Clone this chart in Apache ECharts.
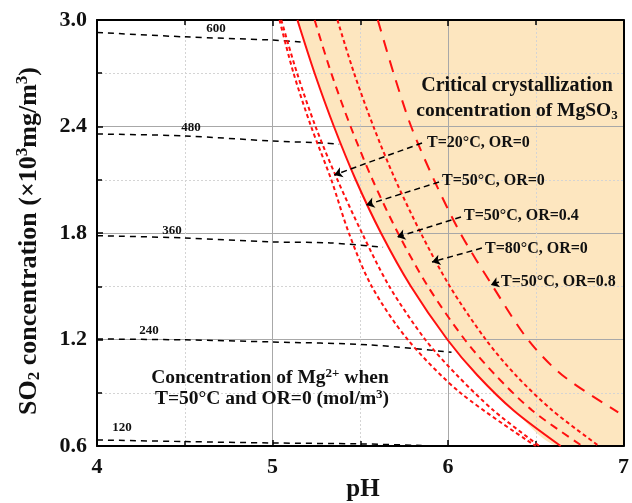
<!DOCTYPE html>
<html>
<head>
<meta charset="utf-8">
<script src="https://cdn.jsdelivr.net/npm/echarts@6/dist/echarts.min.js"></script>
<style>
  html, body { margin: 0; padding: 0; background: #fff; }
  #chart { width: 632px; height: 503px; }
</style>
</head>
<body>
<div id="chart"></div>
<script>
// critical crystallization curves [pH, SO2 (x10^3 mg/m3)]
const t20or0 = [[5.04, 3.0], [5.12, 2.7], [5.22, 2.4], [5.335, 2.1], [5.435, 1.8], [5.565, 1.5], [5.77, 1.2], [6.07, 0.9], [6.50, 0.6]]
const t20or0b = [[5.05, 3.0], [5.14, 2.7], [5.245, 2.4], [5.37, 2.1], [5.51, 1.8], [5.665, 1.5], [5.87, 1.2], [6.05, 1.0], [6.26, 0.8], [6.52, 0.6]]
const t50or0 = [[5.142, 3.0], [5.24, 2.7], [5.35, 2.4], [5.474, 2.1], [5.618, 1.8], [5.788, 1.5], [5.996, 1.2], [6.166, 1.0], [6.374, 0.8], [6.642, 0.6]]
const t50or04 = [[5.24, 3.0], [5.335, 2.7], [5.445, 2.4], [5.57, 2.1], [5.715, 1.8], [5.885, 1.5], [6.095, 1.2], [6.27, 1.0], [6.48, 0.8], [6.765, 0.6]]
const t80or0 = [[5.37, 3.0], [5.465, 2.7], [5.575, 2.4], [5.70, 2.1], [5.845, 1.8], [6.01, 1.5], [6.215, 1.2], [6.385, 1.0], [6.595, 0.8], [6.86, 0.6]]
const t50or08 = [[5.60, 3.0], [5.69, 2.7], [5.79, 2.4], [5.92, 2.1], [6.07, 1.8], [6.255, 1.5], [6.455, 1.2], [6.65, 1.0], [6.97, 0.79]]
const fillCorner = [[7, 0.6]]

// Mg2+ iso-concentration lines (mol/m3)
const isoNames = ['600', '480', '360', '240', '120']
const isoLines = [
  [[4, 2.93], [4.5, 2.905], [5, 2.887], [5.16, 2.876]],
  [[4, 2.358], [4.5, 2.347], [5, 2.318], [5.3, 2.307], [5.38, 2.30]],
  [[4, 1.785], [4.5, 1.772], [5, 1.75], [5.33, 1.744], [5.63, 1.72]],
  [[4, 1.203], [4.5, 1.198], [5, 1.186], [5.55, 1.17], [6.02, 1.128]],
  [[4, 0.634], [4.5, 0.625], [5, 0.617], [5.5, 0.612], [5.85, 0.603]]
]

// arrows from labels to curves: [start, end]
const arrows = [
  [[5.852, 2.307], [5.352, 2.127]],
  [[5.949, 2.087], [5.534, 1.958]],
  [[6.074, 1.890], [5.710, 1.777]],
  [[6.193, 1.715], [5.909, 1.637]],
  [[6.290, 1.524], [6.244, 1.507]]
]
const arrowLabels = ['T=20°C, OR=0', 'T=50°C, OR=0', 'T=50°C, OR=0.4', 'T=80°C, OR=0', 'T=50°C, OR=0.8']

const serif = '"Liberation Serif", "DejaVu Serif", serif'
const red = '#ff1010'

const chart = echarts.init(document.getElementById('chart'))

function curve (name, data, type, dash) {
  return {
    name: name,
    type: 'line',
    data: data,
    showSymbol: false,
    smooth: 0.3,
    lineStyle: { color: red, width: 2, type: type === 'solid' ? 'solid' : dash },
    z: 4
  }
}

const series = []
series.push({
  type: 'line',
  data: t50or0.concat(fillCorner),
  showSymbol: false,
  smooth: 0.3,
  lineStyle: { width: 0 },
  areaStyle: { color: '#fde6bf', opacity: 1, origin: 'end' },
  z: -1
})
isoLines.forEach(function (d, i) {
  const s = {
    name: isoNames[i],
    type: 'line',
    data: d,
    showSymbol: false,
    smooth: 0.3,
    lineStyle: { color: '#000', width: 1.5, type: [6, 5] },
    z: 3
  }
  if (i === 0) {
    s.markLine = {
      silent: true,
      symbol: ['none', 'arrow'],
      symbolSize: 8,
      label: { show: false },
      lineStyle: { color: '#000', width: 1.5, type: [6, 4] },
      data: arrows.map(function (a) {
        return [{ coord: a[0] }, { coord: a[1] }]
      })
    }
  }
  series.push(s)
})
series.push(curve('T=20°C, OR=0', t20or0, 'dot', [4, 3]))
series.push(curve('T=20°C, OR=0 b', t20or0b, 'dot', [4, 3]))
series.push(curve('T=50°C, OR=0', t50or0, 'solid'))
series.push(curve('T=50°C, OR=0.4', t50or04, 'dash', [8, 6]))
series.push(curve('T=80°C, OR=0', t80or0, 'dot', [4, 3]))
series.push(curve('T=50°C, OR=0.8', t50or08, 'dash', [12, 9]))

const bold = { fontFamily: serif, fontWeight: 'bold', fill: '#111' }
const graphics = [
  { type: 'text', x: 29, y: 241, rotation: Math.PI / 2, style: Object.assign({
    text: '{a|SO}{sub|2}{a| concentration (×10}{sup|3}{a|mg/m}{sup|3}{a|)}',
    align: 'center', verticalAlign: 'middle',
    rich: {
      a: { fontSize: 26, fontFamily: serif, fontWeight: 'bold', lineHeight: 29 },
      sub: { fontSize: 17, fontFamily: serif, fontWeight: 'bold', lineHeight: 14, verticalAlign: 'bottom' },
      sup: { fontSize: 17, fontFamily: serif, fontWeight: 'bold', lineHeight: 14, verticalAlign: 'top' }
    }
  }, bold) },
  { type: 'text', x: 363, y: 490, style: Object.assign({ text: 'pH', fontSize: 25, align: 'center', verticalAlign: 'middle' }, bold) },
  { type: 'text', x: 517, y: 86, style: Object.assign({ text: 'Critical crystallization', fontSize: 20, align: 'center', verticalAlign: 'middle' }, bold) },
  { type: 'text', x: 517, y: 111, style: Object.assign({
    text: '{a|concentration of MgSO}{sub|3}',
    align: 'center', verticalAlign: 'middle',
    rich: {
      a: { fontSize: 19.5, fontFamily: serif, fontWeight: 'bold', lineHeight: 22 },
      sub: { fontSize: 13, fontFamily: serif, fontWeight: 'bold', lineHeight: 12, verticalAlign: 'bottom' }
    }
  }, bold) },
  { type: 'text', x: 270, y: 378, style: Object.assign({
    text: '{a|Concentration of Mg}{sup|2+}{a| when}',
    align: 'center', verticalAlign: 'middle',
    rich: {
      a: { fontSize: 19.5, fontFamily: serif, fontWeight: 'bold', lineHeight: 22 },
      sup: { fontSize: 13, fontFamily: serif, fontWeight: 'bold', lineHeight: 12, verticalAlign: 'top' }
    }
  }, bold) },
  { type: 'text', x: 272, y: 399, style: Object.assign({
    text: '{a|T=50°C and OR=0 (mol/m}{sup|3}{a|)}',
    align: 'center', verticalAlign: 'middle',
    rich: {
      a: { fontSize: 19.5, fontFamily: serif, fontWeight: 'bold', lineHeight: 22 },
      sup: { fontSize: 13, fontFamily: serif, fontWeight: 'bold', lineHeight: 12, verticalAlign: 'top' }
    }
  }, bold) }
]
const labelPos = [[427, 143], [442, 181], [464, 216], [485, 249], [501, 282]]
arrowLabels.forEach(function (t, i) {
  graphics.push({ type: 'text', x: labelPos[i][0], y: labelPos[i][1],
    style: Object.assign({ text: t, fontSize: 16, align: 'left', verticalAlign: 'middle' }, bold) })
})
const isoLabelPos = [[216, 29], [191, 128], [172, 231], [149, 331], [122, 428]]
isoNames.forEach(function (t, i) {
  graphics.push({ type: 'text', x: isoLabelPos[i][0], y: isoLabelPos[i][1],
    style: Object.assign({ text: t, fontSize: 13, align: 'center', verticalAlign: 'middle' }, bold) })
})
graphics.forEach(function (g) { g.z = 100 })

const axisLine = { show: true, lineStyle: { color: '#000', width: 2 } }
const option = {
  animation: false,
  grid: { left: 97, right: 7, top: 20, bottom: 57 },
  xAxis: [{
    type: 'value', min: 4, max: 7, interval: 1,
    axisLine: axisLine,
    axisTick: { show: true, inside: true, length: 6, lineStyle: { color: '#000', width: 1.5 } },
    minorTick: { show: true, splitNumber: 2, length: 5, lineStyle: { color: '#000', width: 1.5 } },
    axisLabel: { color: '#111', fontFamily: serif, fontWeight: 'bold', fontSize: 22, margin: 10 },
    splitLine: { show: true, lineStyle: { color: '#a8a8a8', width: 1 } },
    minorSplitLine: { show: true, lineStyle: { color: '#d4d4d4', width: 1, type: [2, 2] } }
  }, {
    type: 'value', min: 4, max: 7, interval: 1, position: 'top',
    axisLine: axisLine,
    axisTick: { show: true, inside: true, length: 6, lineStyle: { color: '#000', width: 1.5 } },
    minorTick: { show: true, splitNumber: 2, length: 5, lineStyle: { color: '#000', width: 1.5 } },
    axisLabel: { show: false },
    splitLine: { show: false }
  }],
  yAxis: [{
    type: 'value', min: 0.6, max: 3.0, interval: 0.6,
    axisLine: axisLine,
    axisTick: { show: true, inside: true, length: 6, lineStyle: { color: '#000', width: 1.5 } },
    minorTick: { show: true, splitNumber: 2, length: 5, lineStyle: { color: '#000', width: 1.5 } },
    axisLabel: { color: '#111', fontFamily: serif, fontWeight: 'bold', fontSize: 22, margin: 10,
      formatter: function (v) { return v.toFixed(1) } },
    splitLine: { show: true, lineStyle: { color: '#a8a8a8', width: 1 } },
    minorSplitLine: { show: true, lineStyle: { color: '#d4d4d4', width: 1, type: [2, 2] } }
  }, {
    type: 'value', min: 0.6, max: 3.0, interval: 0.6, position: 'right',
    axisLine: axisLine,
    axisTick: { show: false },
    axisLabel: { show: false },
    splitLine: { show: false }
  }],
  series: series,
  graphic: graphics
}
chart.setOption(option)
</script>
</body>
</html>
